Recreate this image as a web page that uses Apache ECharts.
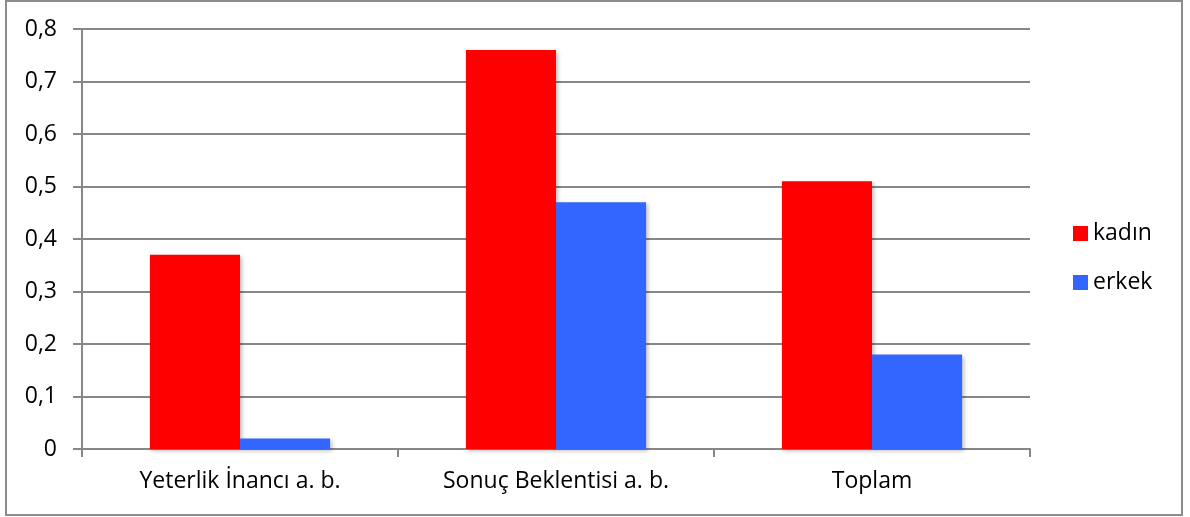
<!DOCTYPE html>
<html>
<head>
<meta charset="utf-8">
<script src="https://cdn.jsdelivr.net/npm/echarts@6/dist/echarts.min.js"></script>
<style>
  html, body { margin: 0; padding: 0; background: #ffffff; }
  #chart { width: 1190px; height: 517px; }
</style>
</head>
<body>
<div id="chart"></div>
<script>
// Categories and series values
const categories = ['Yeterlik İnancı a. b.', 'Sonuç Beklentisi a. b.', 'Toplam'];
const kadinValues = [0.37, 0.76, 0.51];
const erkekValues = [0.02, 0.47, 0.18];
const seriesNames = ['kadın', 'erkek'];

const FONT = '"Open Sans", "DejaVu Sans", sans-serif';
const FONT_SIZE = 23;
const GRID_GRAY = '#878787';

const chart = echarts.init(document.getElementById('chart'), null, { renderer: 'canvas' });

const barShadow = {
  shadowBlur: 4,
  shadowColor: 'rgba(0,0,0,0.25)',
  shadowOffsetX: 2,
  shadowOffsetY: 2
};

chart.setOption({
  animation: false,
  backgroundColor: '#ffffff',
  graphic: [{
    type: 'rect',
    shape: { x: 6, y: 1, width: 1176, height: 514 },
    style: { fill: 'none', stroke: '#8c8c8c', lineWidth: 2 },
    silent: true
  }],
  grid: { left: 82, right: 160, top: 29, bottom: 68, containLabel: false },
  legend: {
    orient: 'vertical',
    left: 1073,
    top: 222,
    padding: 0,
    itemWidth: 15,
    itemHeight: 15,
    itemGap: 26,
    icon: 'rect',
    textStyle: { fontFamily: FONT, fontSize: FONT_SIZE, lineHeight: 23, color: '#000000' },
    data: seriesNames
  },
  xAxis: {
    type: 'category',
    data: categories,
    axisLine: { lineStyle: { color: GRID_GRAY, width: 2 } },
    axisTick: { show: true, alignWithLabel: false, length: 8, lineStyle: { color: GRID_GRAY, width: 2 } },
    axisLabel: { fontFamily: FONT, fontSize: FONT_SIZE, color: '#000000', margin: 21 }
  },
  yAxis: {
    type: 'value',
    min: 0,
    max: 0.8,
    interval: 0.1,
    axisLine: { show: true, lineStyle: { color: GRID_GRAY, width: 2 } },
    axisTick: { show: true, length: 9, lineStyle: { color: GRID_GRAY, width: 2 } },
    splitLine: { show: true, lineStyle: { color: GRID_GRAY, width: 2 } },
    axisLabel: {
      fontFamily: FONT, fontSize: FONT_SIZE, color: '#000000', margin: 25,
      formatter: v => (Math.round(v * 10) / 10).toString().replace('.', ',')
    }
  },
  series: [
    {
      name: seriesNames[0],
      type: 'bar',
      data: kadinValues,
      barGap: '0%',
      barCategoryGap: '43%',
      itemStyle: Object.assign({ color: '#ff0000' }, barShadow)
    },
    {
      name: seriesNames[1],
      type: 'bar',
      data: erkekValues,
      barGap: '0%',
      barCategoryGap: '43%',
      itemStyle: Object.assign({ color: '#3366ff' }, barShadow)
    }
  ]
});
</script>
</body>
</html>
